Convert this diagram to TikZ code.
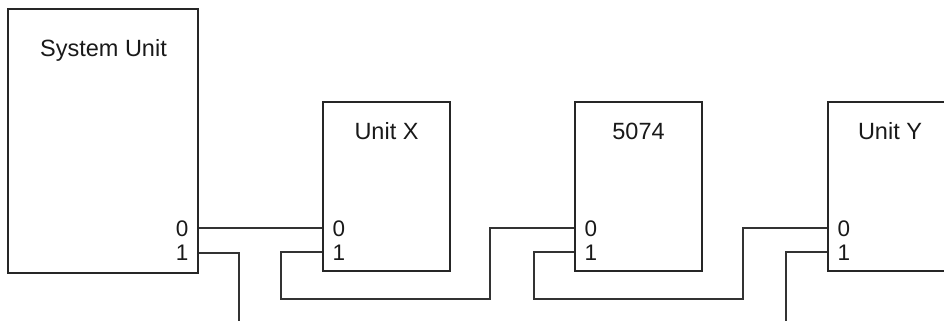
\documentclass[tikz,border=0pt]{standalone}
\usepackage{fontspec}
\setmainfont{Liberation Sans}
\begin{document}
\begin{tikzpicture}[x=1pt,y=-1pt,
  unitbox/.style={draw=black!85,line width=1.1pt,inner sep=0pt,minimum width=127pt,minimum height=169pt},
  title/.style={font=\fontsize{23.5}{28}\selectfont,text=black!90,inner sep=0pt},
  port/.style={font=\fontsize{22.5}{27}\selectfont,text=black!90,inner sep=0pt},
  wire/.style={draw=black!80,line width=1.1pt}]
\useasboundingbox (0,0) rectangle (944,321);
\clip (0,0) rectangle (944,321);
% boxes
\node[unitbox,minimum width=190pt,minimum height=264pt] (su) at (103,141) {};
\node[unitbox] (ux) at (386.5,186.5) {};
\node[unitbox] (u5) at (638.5,186.5) {};
\node[unitbox] (uy) at (891.5,186.5) {};
% titles
\node[title] (sut) at (103.5,50) {System Unit};
\node[title] (uxt) at (386.5,131) {Unit X};
\node[title] (u5t) at (638.5,131) {5074};
\node[title] (uyt) at (890,131) {Unit Y};
% port labels
\node[port,anchor=east] (su0l) at (188.5,228.5) {0};
\node[port,anchor=east] (su1l) at (188.5,253) {1};
\node[port,anchor=west] (ux0l) at (332.5,228.5) {0};
\node[port,anchor=west] (ux1l) at (332.5,253) {1};
\node[port,anchor=west] (u50l) at (584.5,228.5) {0};
\node[port,anchor=west] (u51l) at (584.5,253) {1};
\node[port,anchor=west] (uy0l) at (837.5,228.5) {0};
\node[port,anchor=west] (uy1l) at (837.5,253) {1};
% port coordinates
\coordinate (su0) at (su.east |- 0,228);
\coordinate (su1) at (su.east |- 0,253);
\coordinate (ux0) at (ux.west |- 0,228);
\coordinate (ux1) at (ux.west |- 0,252);
\coordinate (u50) at (u5.west |- 0,228);
\coordinate (u51) at (u5.west |- 0,252);
\coordinate (uy0) at (uy.west |- 0,228);
\coordinate (uy1) at (uy.west |- 0,252);
\coordinate (suout) at (239,321);
\coordinate (uyout) at (786,321);
% wires
\draw[wire] (su0) -- (ux0);
\draw[wire] (su1) -| (suout);
\draw[wire] (ux1) -- (281,252) -- (281,299) -- (490,299) -- (490,228) -- (u50);
\draw[wire] (u51) -- (534,252) -- (534,299) -- (743,299) -- (743,228) -- (uy0);
\draw[wire] (uy1) -| (uyout);
\end{tikzpicture}
\end{document}
